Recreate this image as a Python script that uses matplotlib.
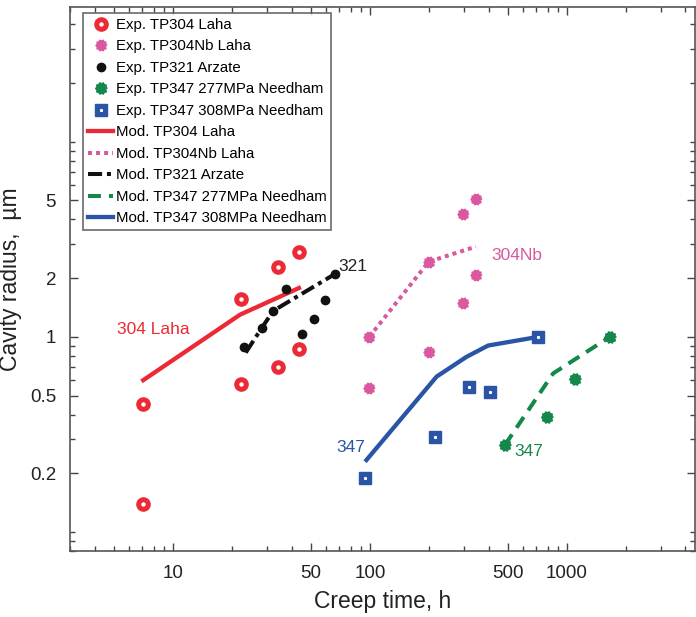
import numpy as np
import matplotlib
matplotlib.use("Agg")
import matplotlib.pyplot as plt
from matplotlib.legend_handler import HandlerTuple
from matplotlib.ticker import FixedLocator, LogLocator, NullFormatter, FixedFormatter

plt.rcParams.update({
    "font.family": ["Liberation Sans", "DejaVu Sans"],
    "axes.linewidth": 1.2,
    "axes.edgecolor": "#555555",
})

RED = "#ec2a35"
PINK = "#d9589f"
BLACK = "#111111"
GREEN = "#14874b"
BLUE = "#2a55a6"

# experimental data (creep time h, cavity radius um)
exp304_t = [7.06, 7.06, 22.1, 22.1, 34.0, 34.0, 43.6, 43.6]
exp304_r = [0.453, 0.140, 1.57, 0.572, 2.29, 0.70, 2.73, 0.865]

exp304nb_t = [345, 298, 199, 345, 298, 99.2, 199, 99.2]
exp304nb_r = [5.1, 4.24, 2.43, 2.08, 1.49, 1.0, 0.84, 0.548]

exp321_t = [22.9, 28.2, 32.1, 37.3, 45.0, 52.1, 59.3, 66.4]
exp321_r = [0.89, 1.11, 1.36, 1.76, 1.04, 1.24, 1.55, 2.10]

exp347a_t = [484, 794, 1099, 1652]
exp347a_r = [0.279, 0.39, 0.607, 1.0]

exp347b_t = [94.3, 214, 319, 406, 714]
exp347b_r = [0.19, 0.308, 0.556, 0.52, 1.0]

# model curves
mod304_t = [7.06, 21.9, 43.6]
mod304_r = [0.60, 1.30, 1.78]

mod304nb_t = [99.2, 199, 345]
mod304nb_r = [1.0, 2.43, 2.90]

mod321_t = [23.4, 28.2, 32.3, 66.4]
mod321_r = [0.83, 1.11, 1.36, 2.10]

mod347a_t = [484, 851, 1652]
mod347a_r = [0.279, 0.65, 1.0]

mod347b_t = [96, 218, 309, 398, 714]
mod347b_r = [0.234, 0.626, 0.79, 0.903, 1.0]

xticks = [10, 50, 100, 500, 1000]
yticks = [0.2, 0.5, 1, 2, 5]


def blob(n=10, inner=0.8):
    ang = np.linspace(0, 2 * np.pi, 2 * n, endpoint=False)
    rad = np.where(np.arange(2 * n) % 2 == 0, 1.0, inner)
    return list(zip(rad * np.cos(ang), rad * np.sin(ang)))


fig = plt.figure(figsize=(6.96, 6.17), dpi=100)
ax = fig.add_axes([70 / 696, 1 - 551 / 617, 625 / 696, 544 / 617])
ax.set_xscale("log")
ax.set_yscale("log")

h1, = ax.plot(exp304_t, exp304_r, ls="none", marker="o", ms=9.5, color=RED, zorder=4)
h1c, = ax.plot(exp304_t, exp304_r, ls="none", marker="o", ms=2.2, color="white", zorder=5)
h2, = ax.plot(exp304nb_t, exp304nb_r, ls="none", marker=blob(), ms=8, color=PINK,
              mec=PINK, zorder=4)
h3, = ax.plot(exp321_t, exp321_r, ls="none", marker="o", ms=6, color=BLACK, zorder=4)
h4, = ax.plot(exp347a_t, exp347a_r, ls="none", marker=blob(), ms=8.5, color=GREEN,
              mec=GREEN, zorder=4)
h5, = ax.plot(exp347b_t, exp347b_r, ls="none", marker="s", ms=8, color=BLUE, zorder=4)
# small white centre on the squares
h5c, = ax.plot(exp347b_t, exp347b_r, ls="none", marker="s", ms=1.2, color="white",
               zorder=5)

m1, = ax.plot(mod304_t, mod304_r, color=RED, lw=3.1, zorder=3)
m2, = ax.plot(mod304nb_t, mod304nb_r, color=PINK, lw=2.9, dashes=(1, 1), zorder=3)
m3, = ax.plot(mod321_t, mod321_r, color=BLACK, lw=2.9, dashes=(3.5, 1.2, 1, 1.2),
              zorder=3)
m4, = ax.plot(mod347a_t, mod347a_r, color=GREEN, lw=2.9, dashes=(3.2, 2), zorder=3)
m5, = ax.plot(mod347b_t, mod347b_r, color=BLUE, lw=3.1, zorder=3)

ax.text(7.9, 1.09, "304 Laha", color=RED, fontsize=12.5, ha="center", va="center")
ax.text(82, 2.29, "321", color="#222222", fontsize=12.5, ha="center", va="center")
ax.text(560, 2.6, "304Nb", color=PINK, fontsize=12.5, ha="center", va="center")
ax.text(80, 0.27, "347", color=BLUE, fontsize=12.5, ha="center", va="center")
ax.text(640, 0.26, "347", color=GREEN, fontsize=12.5, ha="center", va="center")

ax.set_xlim(3, 4470)
ax.set_ylim(0.08, 49)

ax.xaxis.set_major_locator(FixedLocator(xticks))
ax.xaxis.set_major_formatter(FixedFormatter([str(v) for v in xticks]))
ax.xaxis.set_minor_locator(LogLocator(base=10, subs=np.arange(1, 10)))
ax.xaxis.set_minor_formatter(NullFormatter())
ax.yaxis.set_major_locator(FixedLocator(yticks))
ax.yaxis.set_major_formatter(FixedFormatter([f"{v:g}" for v in yticks]))
ax.yaxis.set_minor_locator(LogLocator(base=10, subs=np.arange(1, 10)))
ax.yaxis.set_minor_formatter(NullFormatter())

ax.tick_params(which="both", direction="in", top=True, right=True,
               colors="#444444", labelcolor="#222222")
ax.tick_params(which="major", length=6, width=1, labelsize=13.5, pad=10)
ax.tick_params(which="minor", length=3.5, width=1)

ax.set_xlabel("Creep time, h", fontsize=16.5, color="#222222", labelpad=6)
ax.set_ylabel("Cavity radius,  µm", fontsize=16.5, color="#222222", labelpad=6)

handles = [(h1, h1c), h2, h3, h4, (h5, h5c), m1, m2, m3, m4, m5]
labels = ["Exp. TP304 Laha", "Exp. TP304Nb Laha", "Exp. TP321 Arzate",
          "Exp. TP347 277MPa Needham", "Exp. TP347 308MPa Needham",
          "Mod. TP304 Laha", "Mod. TP304Nb Laha", "Mod. TP321 Arzate",
          "Mod. TP347 277MPa Needham", "Mod. TP347 308MPa Needham"]
leg = ax.legend(handles, labels, handler_map={tuple: HandlerTuple(ndivide=1)},
                loc="upper left", bbox_to_anchor=(0.021, 0.989), borderaxespad=0,
                fontsize=10.8, frameon=True, fancybox=False, handlelength=1.7,
                handletextpad=0.15, labelspacing=0.5, borderpad=0.32)
leg.get_frame().set_edgecolor("#444444")
leg.get_frame().set_linewidth(1.2)

fig.savefig("out.png", dpi=100)
